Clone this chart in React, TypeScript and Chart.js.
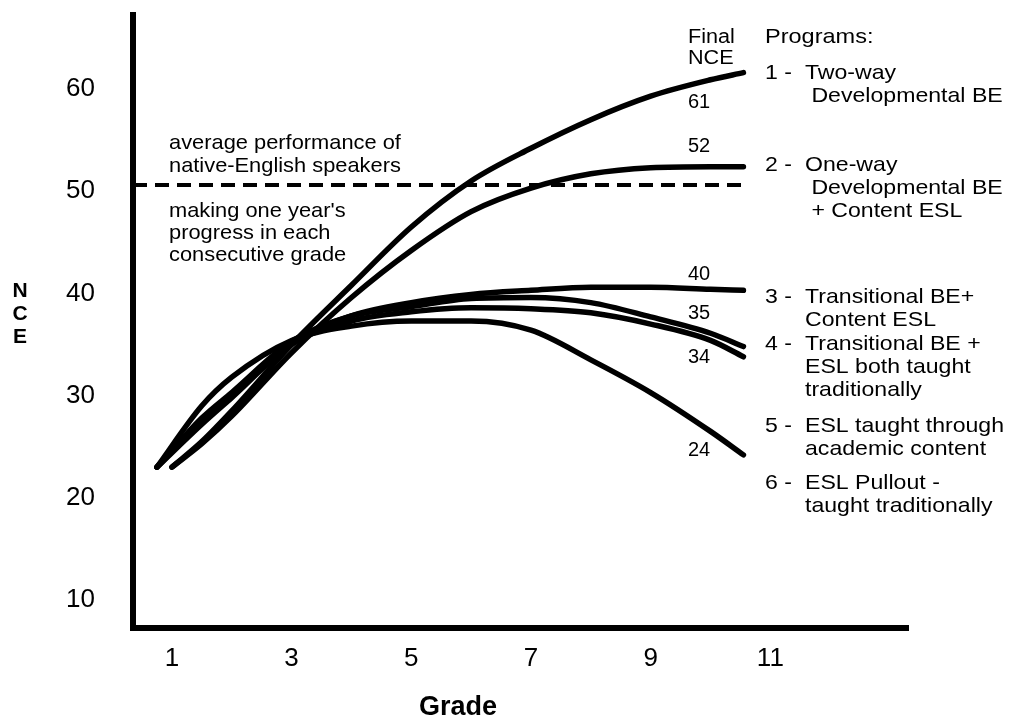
import React, { useEffect, useRef } from "react";
import { Chart, registerables } from "chart.js";

Chart.register(...registerables);

// ---- data ----
const gradeTicks = [1, 3, 5, 7, 9, 11];
const nceTicks = [10, 20, 30, 40, 50, 60];

const gradesSteep = [1, 1.5, 2, 3, 4, 5, 6, 7, 8, 9, 10, 10.55];
const gradesFlat = [0.75, 1.5, 2, 3, 4, 5, 6, 7, 8, 9, 10, 10.55];

const twoWayBE = [23.0, 25.5, 28.5, 35.0, 40.8, 46.5, 51.0, 54.2, 57.0, 59.3, 60.9, 61.6];
const oneWayBE = [23.0, 25.3, 28.0, 34.2, 39.6, 44.2, 48.0, 50.3, 51.7, 52.3, 52.4, 52.4];
const transitionalContent = [23.0, 27.5, 30.0, 35.2, 37.8, 39.1, 39.9, 40.3, 40.6, 40.6, 40.4, 40.3];
const transitionalTraditional = [23.0, 27.8, 30.3, 35.3, 37.8, 38.7, 39.5, 39.6, 39.1, 37.7, 36.1, 34.8];
const eslContent = [23.0, 27.2, 29.8, 35.0, 37.3, 38.2, 38.6, 38.5, 38.1, 37.0, 35.4, 33.8];
const eslPullout = [23.0, 29.0, 31.8, 35.4, 36.8, 37.3, 37.3, 36.4, 33.5, 30.3, 26.5, 24.2];

const finalNCE = [61, 52, 40, 35, 34, 24];

const nativeAverage = 50.6;
const nativeGrades = [0.35, 10.6];

const programNumbers = ["1 -", "2 -", "3 -", "4 -", "5 -", "6 -"];
const programLines = [
  ["Two-way", " Developmental BE"],
  ["One-way", " Developmental BE", " + Content ESL"],
  ["Transitional BE+", "Content ESL"],
  ["Transitional BE +", "ESL both taught", "traditionally"],
  ["ESL taught through", "academic content"],
  ["ESL Pullout -", "taught traditionally"],
];
const noteAbove = ["average performance of", "native-English speakers"];
const noteBelow = ["making one year's", "progress in each", "consecutive grade"];

const FONT = "'Liberation Sans', Arial, Helvetica, sans-serif";

function drawText(ctx: CanvasRenderingContext2D, t: string, x: number, y: number, sx: number) {
  ctx.save();
  ctx.translate(x, y);
  ctx.scale(sx, 1);
  ctx.fillText(t, 0, 0);
  ctx.restore();
}

const textPlugin = {
  id: "textPlugin",
  afterDraw(chart: any) {
    const ctx = chart.ctx as CanvasRenderingContext2D;
    const ys = chart.scales.y;
    ctx.save();
    ctx.fillStyle = "#000";
    ctx.textBaseline = "middle";
    ctx.textAlign = "left";

    // notes on the dashed line
    ctx.font = `21px ${FONT}`;
    noteAbove.forEach((t, i) => drawText(ctx, t, 169, 143 + i * 23, 1.04));
    noteBelow.forEach((t, i) => drawText(ctx, t, 169, 211 + i * 22, 1.04));

    // Final NCE header
    ctx.font = `20px ${FONT}`;
    drawText(ctx, "Final", 688, 37, 1.08);
    drawText(ctx, "NCE", 688, 58, 1.08);

    // final values
    const offsets = [24, -24, -19, -31, 3, -6];
    ctx.font = `20px ${FONT}`;
    finalNCE.forEach((v, i) => {
      drawText(ctx, String(v), 688, ys.getPixelForValue(v) + offsets[i], 1.0);
    });

    // programs legend
    ctx.font = `21px ${FONT}`;
    drawText(ctx, "Programs:", 765, 37, 1.12);
    const startY = [73, 165, 297, 344, 426, 483];
    programNumbers.forEach((n, i) => {
      drawText(ctx, n, 765, startY[i], 1.1);
      programLines[i].forEach((t, j) => {
        drawText(ctx, t, 805, startY[i] + j * 23, 1.1);
      });
    });

    // axis titles
    ctx.font = `bold 21px ${FONT}`;
    ctx.textAlign = "center";
    ["N", "C", "E"].forEach((c, i) => ctx.fillText(c, 20, 291 + i * 23));
    ctx.font = `bold 27px ${FONT}`;
    ctx.fillText("Grade", 458, 708);
    ctx.restore();
  },
};

function line(grades: number[], values: number[]) {
  return {
    data: grades.map((g, i) => ({ x: g, y: values[i] })),
    borderColor: "#000",
    borderWidth: 5.5,
    pointRadius: 0,
    fill: false,
    cubicInterpolationMode: "monotone" as const,
    borderCapStyle: "round" as const,
    borderJoinStyle: "round" as const,
  };
}

export default function App() {
  const ref = useRef<HTMLCanvasElement | null>(null);
  useEffect(() => {
    if (!ref.current) return;
    const chart = new Chart(ref.current, {
      type: "line",
      data: {
        datasets: [
          {
            data: nativeGrades.map((g) => ({ x: g, y: nativeAverage })),
            borderColor: "#000",
            borderWidth: 4,
            borderDash: [14, 8],
            pointRadius: 0,
            fill: false,
          },
          line(gradesSteep, twoWayBE),
          line(gradesSteep, oneWayBE),
          line(gradesFlat, transitionalContent),
          line(gradesFlat, transitionalTraditional),
          line(gradesFlat, eslContent),
          line(gradesFlat, eslPullout),
        ] as any,
      },
      options: {
        animation: false,
        responsive: false,
        devicePixelRatio: 1,
        layout: { padding: { top: 15, right: 102, left: 0, bottom: 0 } },
        plugins: { legend: { display: false }, tooltip: { enabled: false } },
        scales: {
          x: {
            type: "linear",
            min: 0.35,
            max: 13.3,
            grid: { display: false, drawTicks: false },
            border: { display: true, color: "#000", width: 6 },
            ticks: {
              color: "#000",
              font: { size: 26, family: FONT },
              padding: 15,
              autoSkip: false,
              maxRotation: 0,
            },
            afterBuildTicks: (s: any) => {
              s.ticks = gradeTicks.map((v) => ({ value: v }));
            },
            afterFit: (s: any) => {
              s.height = 93;
              s.paddingLeft = 0;
              s.paddingRight = 0;
            },
          },
          y: {
            type: "linear",
            min: 7.26,
            max: 67.24,
            grid: { display: false, drawTicks: false },
            border: { display: true, color: "#000", width: 6 },
            ticks: {
              color: "#000",
              font: { size: 26, family: FONT },
              padding: 38,
              autoSkip: false,
            },
            afterBuildTicks: (s: any) => {
              s.ticks = nceTicks.map((v) => ({ value: v }));
            },
            afterFit: (s: any) => {
              s.width = 133;
              s.paddingTop = 0;
              s.paddingBottom = 0;
            },
          },
        },
      },
      plugins: [textPlugin],
    });
    return () => chart.destroy();
  }, []);
  return (
    <div style={{ position: "absolute", left: 0, top: 0, width: 1010, height: 721, background: "#fff" }}>
      <canvas ref={ref} width={1010} height={721} />
    </div>
  );
}
